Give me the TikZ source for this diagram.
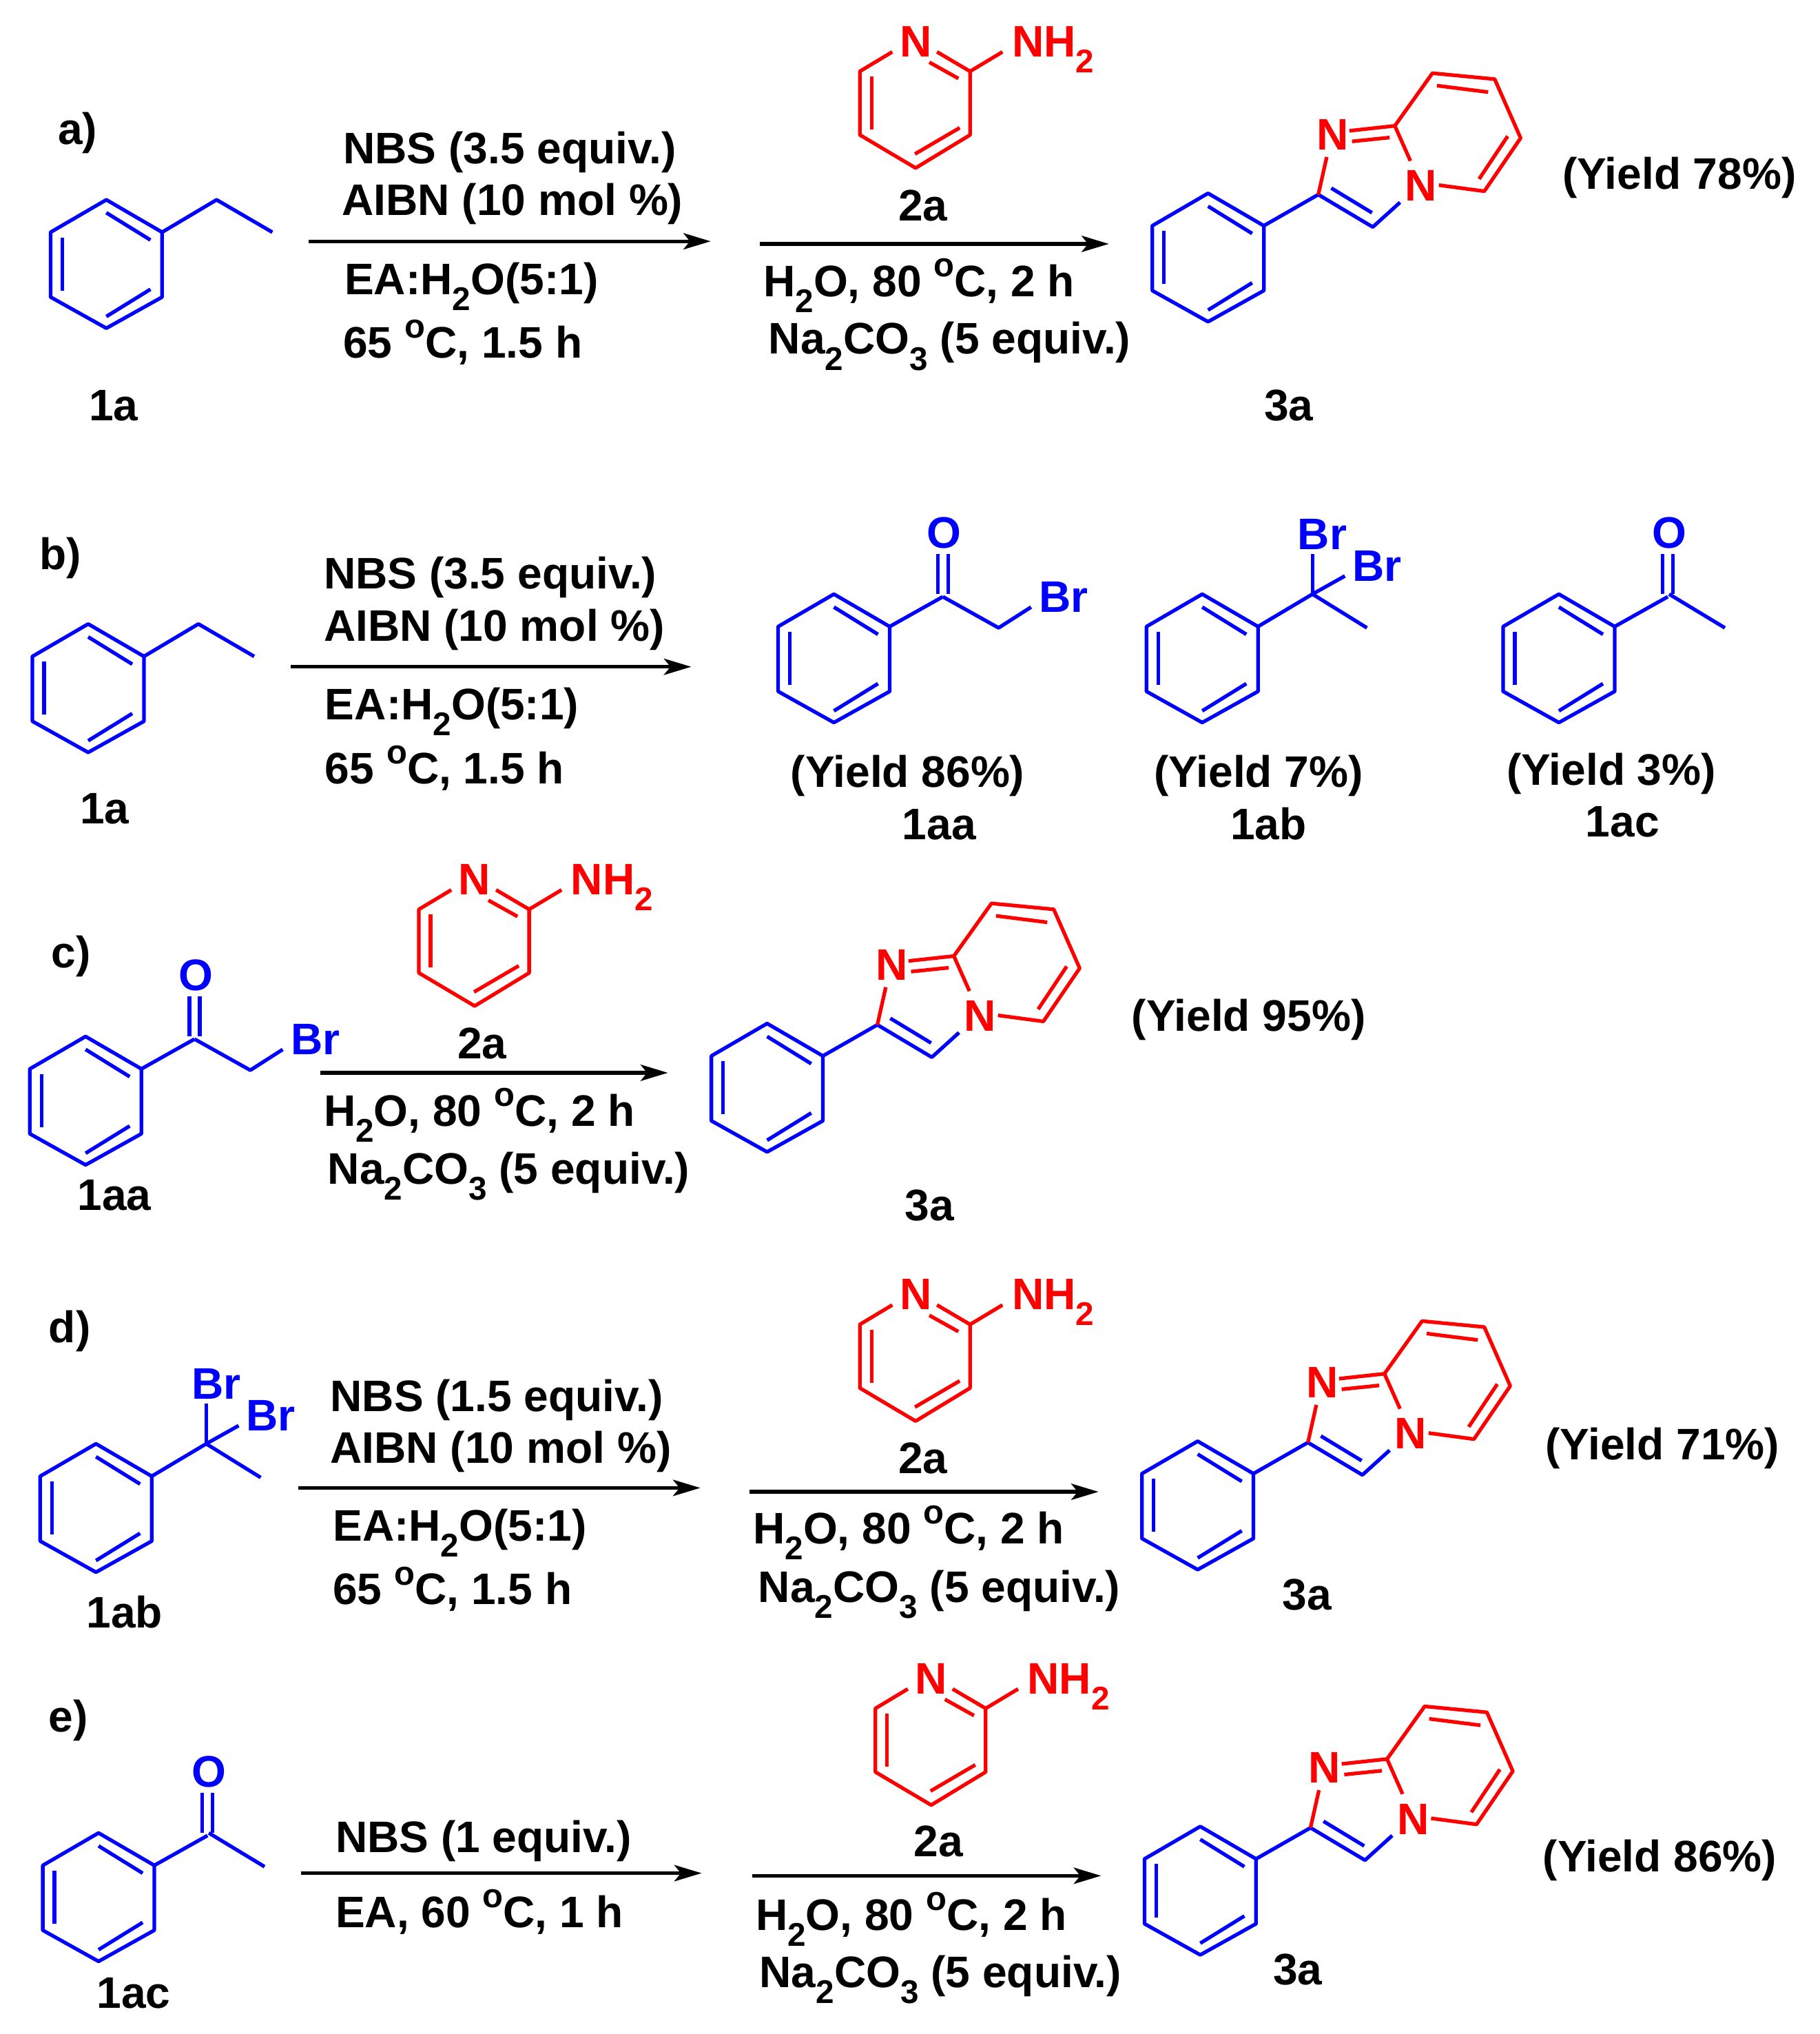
\documentclass[tikz,border=0pt]{standalone}
\usepackage{fontspec}
\setmainfont{Liberation Sans}
\usetikzlibrary{arrows.meta}
\definecolor{vblue}{HTML}{0000FF}
\definecolor{vred}{HTML}{FF0000}
\newcommand{\lowdig}[1]{\raisebox{-0.68ex}{\fontsize{7.2}{8}\selectfont #1}}
\newcommand{\degc}{\raisebox{0.85ex}{\fontsize{7.4}{8}\selectfont o}C}
\tikzset{
	bluebond/.style = {draw = vblue, line width = 0.028cm, line join = round},
	redbond/.style = {draw = vred, line width = 0.028cm, line join = round},
	rxnarrow/.style = {draw = black, line width = 0.028cm, -{Stealth[length = 0.21cm, width = 0.125cm, inset = 0.05cm]}},
	atomtext/.style = {anchor = base, inner sep = 0pt, font = \fontsize{9.68}{11}\selectfont\bfseries},
	lab/.style = {atomtext, anchor = base west, xshift = -0.01cm},
	blueatom/.style = {atomtext, text = vblue},
	redatom/.style = {atomtext, text = vred},
}
% ring drawn from its top corner
\newcommand{\benzring}[2]{
	\draw[bluebond, shift = {(#1,#2)}] (0,0) -- (43,25) -- (43,75) -- (0,99) -- (-43,75) -- (-43,25) -- cycle;
	\draw[bluebond, shift = {(#1,#2)}] (-34,29) -- (-34,70);
	\draw[bluebond, shift = {(#1,#2)}] (0,10) -- (34,31);
	\draw[bluebond, shift = {(#1,#2)}] (34,69) -- (0,90);
}
\newcommand{\ethylring}[2]{
	\benzring{#1}{#2}
	\draw[bluebond, shift = {(#1,#2)}] (43,25) -- (85,0) -- (128,25);
}
\newcommand{\ketoring}[3]{
	\benzring{#1}{#2}
	\draw[bluebond, shift = {(#1,#2)}] (43,25) -- (84,2);
	\draw[bluebond, shift = {(#1,#2)}] (80,-31) -- (80,0);
	\draw[bluebond, shift = {(#1,#2)}] (88,-31) -- (88,0);
	\node[blueatom] (O#3) at (#1+85,#2-35.5) {O};
}
\newcommand{\bromoketo}[3]{
	\ketoring{#1}{#2}{#3}
	\draw[bluebond, shift = {(#1,#2)}] (84,2) -- (127,26) -- (152,10);
	\node[blueatom, anchor = base west] (Br#3) at (#1+157.5,#2+14) {Br};
}
\newcommand{\acetoring}[3]{
	\ketoring{#1}{#2}{#3}
	\draw[bluebond, shift = {(#1,#2)}] (85,0) -- (128,26);
}
\newcommand{\dibromo}[3]{
	\benzring{#1}{#2}
	\draw[bluebond, shift = {(#1,#2)}] (43,25) -- (85,0) -- (127,26);
	\draw[bluebond, shift = {(#1,#2)}] (85,0) -- (85,-31);
	\draw[bluebond, shift = {(#1,#2)}] (85,0) -- (110,-14);
	\node[blueatom, anchor = base west] (Brup#3) at (#1+73,#2-34.5) {Br};
	\node[blueatom, anchor = base west] (Brdn#3) at (#1+115,#2-10) {Br};
}
% N taken as the origin
\newcommand{\aminopy}[3]{
	\draw[redbond, shift = {(#1,#2)}] (-18,7) -- (-43,22) -- (-43,71) -- (0,96.5) -- (42,71) -- (42,22) -- (16.5,7);
	\draw[redbond, shift = {(#1,#2)}] (-34,26) -- (-34,67);
	\draw[redbond, shift = {(#1,#2)}] (34,65.5) -- (-0.5,85.7);
	\draw[redbond, shift = {(#1,#2)}] (10.6,15) -- (33,27.5);
	\draw[redbond, shift = {(#1,#2)}] (42,22) -- (67,7);
	\node[redatom] (Npy#3) at (#1,#2+10.7) {N};
	\node[redatom, anchor = base west] (NHpy#3) at (#1+73.6,#2+10.7) {NH\lowdig{2}};
}
% phenyl top corner taken as the origin
\newcommand{\imidazo}[3]{
	\benzring{#1}{#2}
	\draw[bluebond, shift = {(#1,#2)}] (43,25) -- (85,1) -- (127,26) -- (148,7);
	\draw[bluebond, shift = {(#1,#2)}] (95,-4) -- (126.4,15);
	\draw[redbond, shift = {(#1,#2)}] (85,1) -- (91.5,-28);
	\draw[redbond, shift = {(#1,#2)}] (109,-48.2) -- (144,-52);
	\draw[redbond, shift = {(#1,#2)}] (111,-40) -- (140,-43);
	\draw[redbond, shift = {(#1,#2)}] (156,-25) -- (144,-52) -- (173,-92.6) -- (221,-88) -- (241,-42.6) -- (213,-1.6) -- (178,-6.3);
	\draw[redbond, shift = {(#1,#2)}] (176.5,-83) -- (216,-78);
	\draw[redbond, shift = {(#1,#2)}] (231,-44) -- (209,-11);
	\node[redatom] (Nim#3) at (#1+96,#2-33.6) {N};
	\node[redatom] (Nbr#3) at (#1+164,#2+6) {N};
}
\begin{document}
\begin{tikzpicture}[x = 0.01cm, y = -0.01cm]
	\useasboundingbox (0,0) rectangle (1403,1568);
	% scheme-a
	\node[lab] (taga) at (45,111) {a)};
	\ethylring{82}{154}
	\node[lab] (rga1) at (265,126) {NBS (3.5 equiv.)};
	\node[lab] (rga2) at (264,166) {AIBN (10 mol \%)};
	\coordinate (arra1) at (238,186);
	\coordinate (arra2) at (548,186);
	\draw[rxnarrow] (arra1) -- (arra2);
	\node[lab] (rga3) at (266,227) {EA:H\lowdig{2}O(5:1)};
	\node[lab] (rga4) at (265,276) {65 \degc, 1.5 h};
	\node[lab] (cpda1) at (69,324) {1a};
	\aminopy{706}{33}{a}
	\node[lab] (cpda2) at (693,170) {2a};
	\coordinate (arra3) at (586,188);
	\coordinate (arra4) at (855,188);
	\draw[rxnarrow] (arra3) -- (arra4);
	\node[lab] (rga5) at (589,228.5) {H\lowdig{2}O, 80 \degc, 2 h};
	\node[lab] (rga6) at (593,273) {Na\lowdig{2}CO\lowdig{3} (5 equiv.)};
	\imidazo{931.5}{149}{a}
	\node[lab] (cpda3) at (975,324) {3a};
	\node[lab] (ylda) at (1205,145.6) {(Yield 78\%)};
	% scheme-b
	\node[lab] (tagb) at (31,439) {b)};
	\ethylring{68}{481}
	\node[lab] (rgb1) at (250,454) {NBS (3.5 equiv.)};
	\node[lab] (rgb2) at (250,494) {AIBN (10 mol \%)};
	\coordinate (arrb1) at (224,514);
	\coordinate (arrb2) at (533,514);
	\draw[rxnarrow] (arrb1) -- (arrb2);
	\node[lab] (rgb3) at (251,555) {EA:H\lowdig{2}O(5:1)};
	\node[lab] (rgb4) at (251,604) {65 \degc, 1.5 h};
	\node[lab] (cpdb1) at (62,635) {1a};
	\bromoketo{643}{458}{b}
	\dibromo{927}{458}{b}
	\acetoring{1202}{458}{b}
	\node[lab] (yldb1) at (610,607) {(Yield 86\%)};
	\node[lab] (cpdb2) at (696,647) {1aa};
	\node[lab] (yldb2) at (890,607) {(Yield 7\%)};
	\node[lab] (cpdb3) at (949,647) {1ab};
	\node[lab] (yldb3) at (1162,605) {(Yield 3\%)};
	\node[lab] (cpdb4) at (1223,645) {1ac};
	% scheme-c
	\node[lab] (tagc) at (40,746) {c)};
	\bromoketo{66}{799}{c}
	\node[lab] (cpdc1) at (60,933) {1aa};
	\aminopy{366}{679}{c}
	\node[lab] (cpdc2) at (353,816) {2a};
	\coordinate (arrc1) at (247,827);
	\coordinate (arrc2) at (515,827);
	\draw[rxnarrow] (arrc1) -- (arrc2);
	\node[lab] (rgc1) at (250,868) {H\lowdig{2}O, 80 \degc, 2 h};
	\node[lab] (rgc2) at (253,913) {Na\lowdig{2}CO\lowdig{3} (5 equiv.)};
	\imidazo{591.5}{789}{c}
	\node[lab] (cpdc3) at (698,941) {3a};
	\node[lab] (yldc) at (873,795) {(Yield 95\%)};
	% scheme-d
	\node[lab] (tagd) at (38,1035) {d)};
	\dibromo{74}{1113}{d}
	\node[lab] (cpdd1) at (67,1255) {1ab};
	\node[lab] (rgd1) at (255,1088) {NBS (1.5 equiv.)};
	\node[lab] (rgd2) at (255,1128) {AIBN (10 mol \%)};
	\coordinate (arrd1) at (230,1147);
	\coordinate (arrd2) at (540,1147);
	\draw[rxnarrow] (arrd1) -- (arrd2);
	\node[lab] (rgd3) at (257,1188) {EA:H\lowdig{2}O(5:1)};
	\node[lab] (rgd4) at (257,1237) {65 \degc, 1.5 h};
	\aminopy{706}{999}{d}
	\node[lab] (cpdd2) at (693,1136) {2a};
	\coordinate (arrd3) at (578,1150);
	\coordinate (arrd4) at (847,1150);
	\draw[rxnarrow] (arrd3) -- (arrd4);
	\node[lab] (rgd5) at (581,1190) {H\lowdig{2}O, 80 \degc, 2 h};
	\node[lab] (rgd6) at (585,1235) {Na\lowdig{2}CO\lowdig{3} (5 equiv.)};
	\imidazo{923.5}{1111}{d}
	\node[lab] (cpdd3) at (989,1241) {3a};
	\node[lab] (yldd) at (1192,1125) {(Yield 71\%)};
	% scheme-e
	\node[lab] (tage) at (38,1335) {e)};
	\acetoring{76}{1413}{e}
	\node[lab] (cpde1) at (75,1548) {1ac};
	\node[lab] (rge1) at (259,1428) {NBS (1 equiv.)};
	\coordinate (arre1) at (232,1444);
	\coordinate (arre2) at (541,1444);
	\draw[rxnarrow] (arre1) -- (arre2);
	\node[lab] (rge2) at (259,1486) {EA, 60 \degc, 1 h};
	\aminopy{718}{1295}{e}
	\node[lab] (cpde2) at (705,1431) {2a};
	\coordinate (arre3) at (580,1446);
	\coordinate (arre4) at (849,1446);
	\draw[rxnarrow] (arre3) -- (arre4);
	\node[lab] (rge3) at (583,1488) {H\lowdig{2}O, 80 \degc, 2 h};
	\node[lab] (rge4) at (586,1532) {Na\lowdig{2}CO\lowdig{3} (5 equiv.)};
	\imidazo{925.5}{1408}{e}
	\node[lab] (cpde3) at (982,1530) {3a};
	\node[lab] (ylde) at (1190,1443) {(Yield 86\%)};
\end{tikzpicture}
\end{document}
